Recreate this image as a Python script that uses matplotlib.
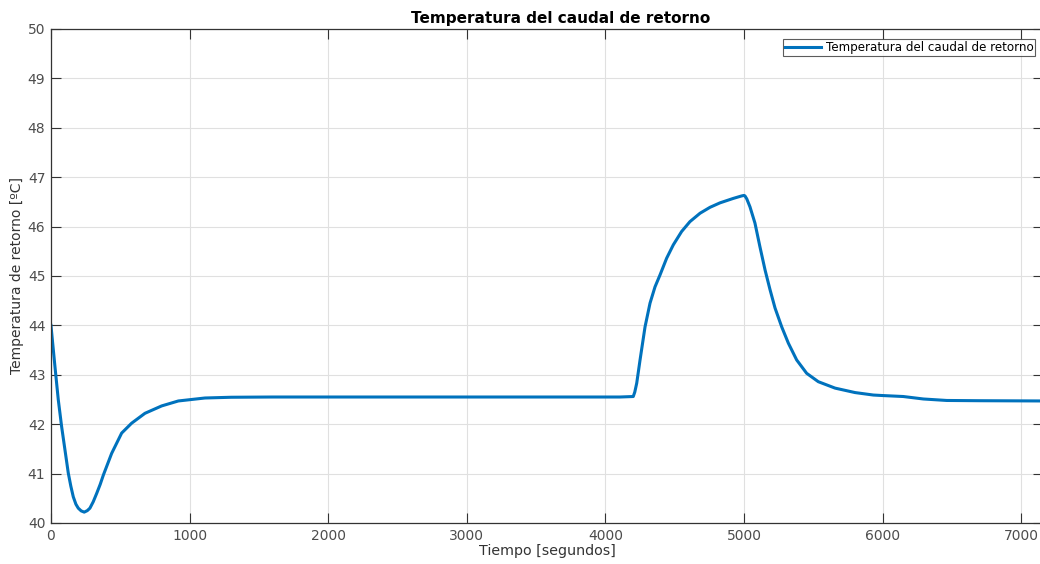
import matplotlib
matplotlib.use('Agg')
import matplotlib.pyplot as plt
import numpy as np

# tiempo [s] y temperatura [ºC]
t = [0, 29, 53, 77, 101, 125, 143, 161, 180, 197, 218, 240, 262, 281, 305, 330,
     355, 378, 438, 510, 582, 678, 799, 919, 1015, 1111, 1300, 1600, 2000,
     3000, 4000, 4105, 4201, 4212, 4226, 4250, 4286, 4322, 4358, 4394, 4442,
     4490, 4550, 4610, 4683, 4755, 4827, 4923, 4983, 5000, 5007, 5020, 5043,
     5079, 5115, 5152, 5188, 5224, 5272, 5320, 5380, 5452, 5536, 5657, 5801,
     5933, 5998, 6149, 6294, 6463, 6703, 7158]
temp = [44.0, 43.16, 42.49, 41.95, 41.48, 41.01, 40.75, 40.53, 40.38, 40.30,
        40.245, 40.22, 40.25, 40.30, 40.43, 40.60, 40.78, 40.97, 41.41, 41.82,
        42.02, 42.22, 42.37, 42.47, 42.50, 42.53, 42.545, 42.55, 42.55, 42.55,
        42.55, 42.55, 42.56, 42.65, 42.83, 43.30, 43.97, 44.45, 44.78, 45.02,
        45.36, 45.63, 45.90, 46.10, 46.27, 46.39, 46.48, 46.57, 46.62, 46.63,
        46.62, 46.56, 46.40, 46.07, 45.59, 45.12, 44.72, 44.35, 43.97, 43.64,
        43.30, 43.03, 42.86, 42.73, 42.64, 42.59, 42.58, 42.56, 42.51, 42.48,
        42.475, 42.47]

fig = plt.figure(figsize=(10.4, 5.64), dpi=100)
ax = fig.add_axes([0.049, 0.0727, 0.954, 0.876])

ax.plot(t, temp, color='#0072BD', linewidth=2.2, solid_joinstyle='round',
        label='Temperatura del caudal de retorno')

ax.set_xlim(0, 7158)
ax.set_ylim(40, 50)
ax.set_xticks(np.arange(0, 7001, 1000))
ax.set_yticks(np.arange(40, 51, 1))
ax.grid(True, color='#e0e0e0', linewidth=0.8)
ax.tick_params(direction='in', length=7, width=0.8, colors='#333333',
               labelcolor='#4d4d4d', labelsize=10, top=True, right=True, pad=4)
for s in ax.spines.values():
    s.set_color('#333333')
    s.set_linewidth(0.9)

ax.set_title('Temperatura del caudal de retorno', fontsize=11, fontweight='bold',
             x=0.514, pad=4)
ax.set_xlabel('Tiempo [segundos]', fontsize=10.3, color='#333333', labelpad=1)
ax.set_ylabel('Temperatura de retorno [ºC]', fontsize=10, color='#333333', labelpad=3)

leg = ax.legend(loc='upper right', bbox_to_anchor=(1 - 8 / 992, 1 - 10 / 494),
                borderaxespad=0, fontsize=8.6, frameon=True, fancybox=False,
                handlelength=3.0, handletextpad=0.4, borderpad=0.15)
leg.get_frame().set_edgecolor('#333333')
leg.get_frame().set_linewidth(0.8)

fig.savefig('out.png', dpi=100)
